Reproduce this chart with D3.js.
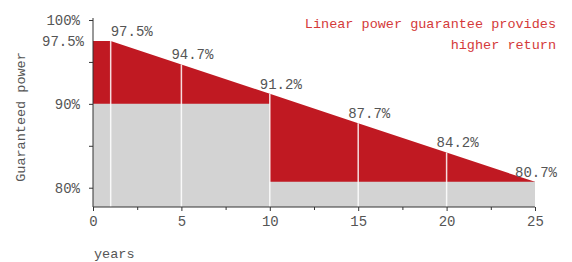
<!DOCTYPE html>
<html>
<head>
<meta charset="utf-8">
<script src="https://cdn.jsdelivr.net/npm/d3@7"></script>
<style>
  body { margin: 0; background: #fff; }
  svg text { font-family: "Liberation Mono", monospace; fill: #555; }
</style>
</head>
<body>
<div id="chart"></div>
<script>
// linear guarantee, labelled points
var years = [1, 5, 10, 15, 20, 25];
var linearValues = [97.5, 94.7, 91.2, 87.7, 84.2, 80.7];
var startYear = 0;

// step guarantee
var stepStarts = [0, 10];
var stepEnds = [10, 25];
var stepValues = [90, 80.7];

var yTicks = [80, 90, 100];
var yMinorTicks = [85, 95];
var xTicks = [0, 5, 10, 15, 20, 25];
var xMinorTicks = [2.5, 7.5, 12.5, 17.5, 22.5];

var noteLines = ["Linear power guarantee provides", "higher return"];

var width = 572, height = 262;
var svg = d3.select("#chart").append("svg")
    .attr("width", width)
    .attr("height", height);

var x = d3.scaleLinear().domain([0, 25]).range([93, 535]);
var y = d3.scaleLinear().domain([77.7, 100]).range([207, 20]);
var yBottom = y.range()[0];

// red area: line from year 0 to 25
var topPoints = [[startYear, linearValues[0]]].concat(years.map(function(d, i){ return [d, linearValues[i]]; }));
var area = d3.area()
    .x(function(d){ return x(d[0]); })
    .y0(yBottom)
    .y1(function(d){ return y(d[1]); });
svg.append("path")
    .datum(topPoints)
    .attr("d", area)
    .attr("fill", "#c01922");

// gray step area
var stepPoints = [];
stepStarts.forEach(function(s, i){
  stepPoints.push([s, stepValues[i]]);
  stepPoints.push([stepEnds[i], stepValues[i]]);
});
svg.append("path")
    .datum(stepPoints)
    .attr("d", area)
    .attr("fill", "#d3d3d3");

// white separators
svg.selectAll(".sep").data(years.slice(0, -1)).enter().append("line")
    .attr("x1", function(d){ return x(d); })
    .attr("x2", function(d){ return x(d); })
    .attr("y1", yBottom)
    .attr("y2", function(d, i){ return y(linearValues[i]); })
    .attr("stroke", "#fff")
    .attr("stroke-opacity", 0.85)
    .attr("stroke-width", 1.5);

// value labels (first sits right of its line, last is pulled back inside)
var last = years.length - 1;
svg.selectAll(".val").data(years).enter().append("text")
    .attr("x", function(d, i){
      if(i === 0) return x(d);
      if(i === last) return x(d) + 22;
      return x(d) - 10;
    })
    .attr("y", function(d, i){ return y(linearValues[i]) - 5; })
    .attr("text-anchor", function(d, i){ return i === last ? "end" : "start"; })
    .attr("font-size", 14)
    .text(function(d, i){ return linearValues[i].toFixed(1) + "%"; });

// axes
var yAxis = d3.axisLeft(y).tickValues(yTicks).tickSize(4).tickPadding(9)
    .tickFormat(function(d){ return d + "%"; });
var gy = svg.append("g").attr("transform", "translate(93,0)").call(yAxis);
svg.append("g").attr("transform", "translate(93,0)")
    .call(d3.axisLeft(y).tickValues(yMinorTicks).tickSize(4).tickFormat(""))
    .select(".domain").remove();

var xAxis = d3.axisBottom(x).tickValues(xTicks).tickSize(4).tickPadding(5);
var gx = svg.append("g").attr("transform", "translate(0," + yBottom + ")").call(xAxis);
svg.append("g").attr("transform", "translate(0," + yBottom + ")")
    .call(d3.axisBottom(x).tickValues(xMinorTicks).tickSize(3).tickFormat(""))
    .select(".domain").remove();

svg.selectAll(".domain").attr("stroke", "#333");
svg.selectAll(".tick line").attr("stroke", "#333");
svg.selectAll(".tick text").attr("font-size", 14).attr("fill", "#555")
    .attr("font-family", "Liberation Mono, monospace");
gy.select(".domain").attr("d", "M0,18V" + yBottom);
gx.select(".domain").attr("d", "M93,0H535");

// y label for 97.5 start value
svg.append("text")
    .attr("x", 84)
    .attr("y", y(linearValues[0]) + 5)
    .attr("text-anchor", "end")
    .attr("font-size", 14)
    .text(linearValues[0].toFixed(1) + "%");

// axis titles
svg.append("text")
    .attr("transform", "translate(25,117) rotate(-90)")
    .attr("text-anchor", "middle")
    .attr("font-size", 13.5)
    .text("Guaranteed power");
svg.append("text")
    .attr("x", 94)
    .attr("y", 258)
    .attr("font-size", 13.5)
    .text("years");

// note
svg.selectAll(".note").data(noteLines).enter().append("text")
    .attr("x", 556)
    .attr("y", function(d, i){ return 28 + i * 21; })
    .attr("text-anchor", "end")
    .attr("font-size", 13.5)
    .style("fill", "#d43a3a")
    .text(function(d){ return d; });
</script>
</body>
</html>
